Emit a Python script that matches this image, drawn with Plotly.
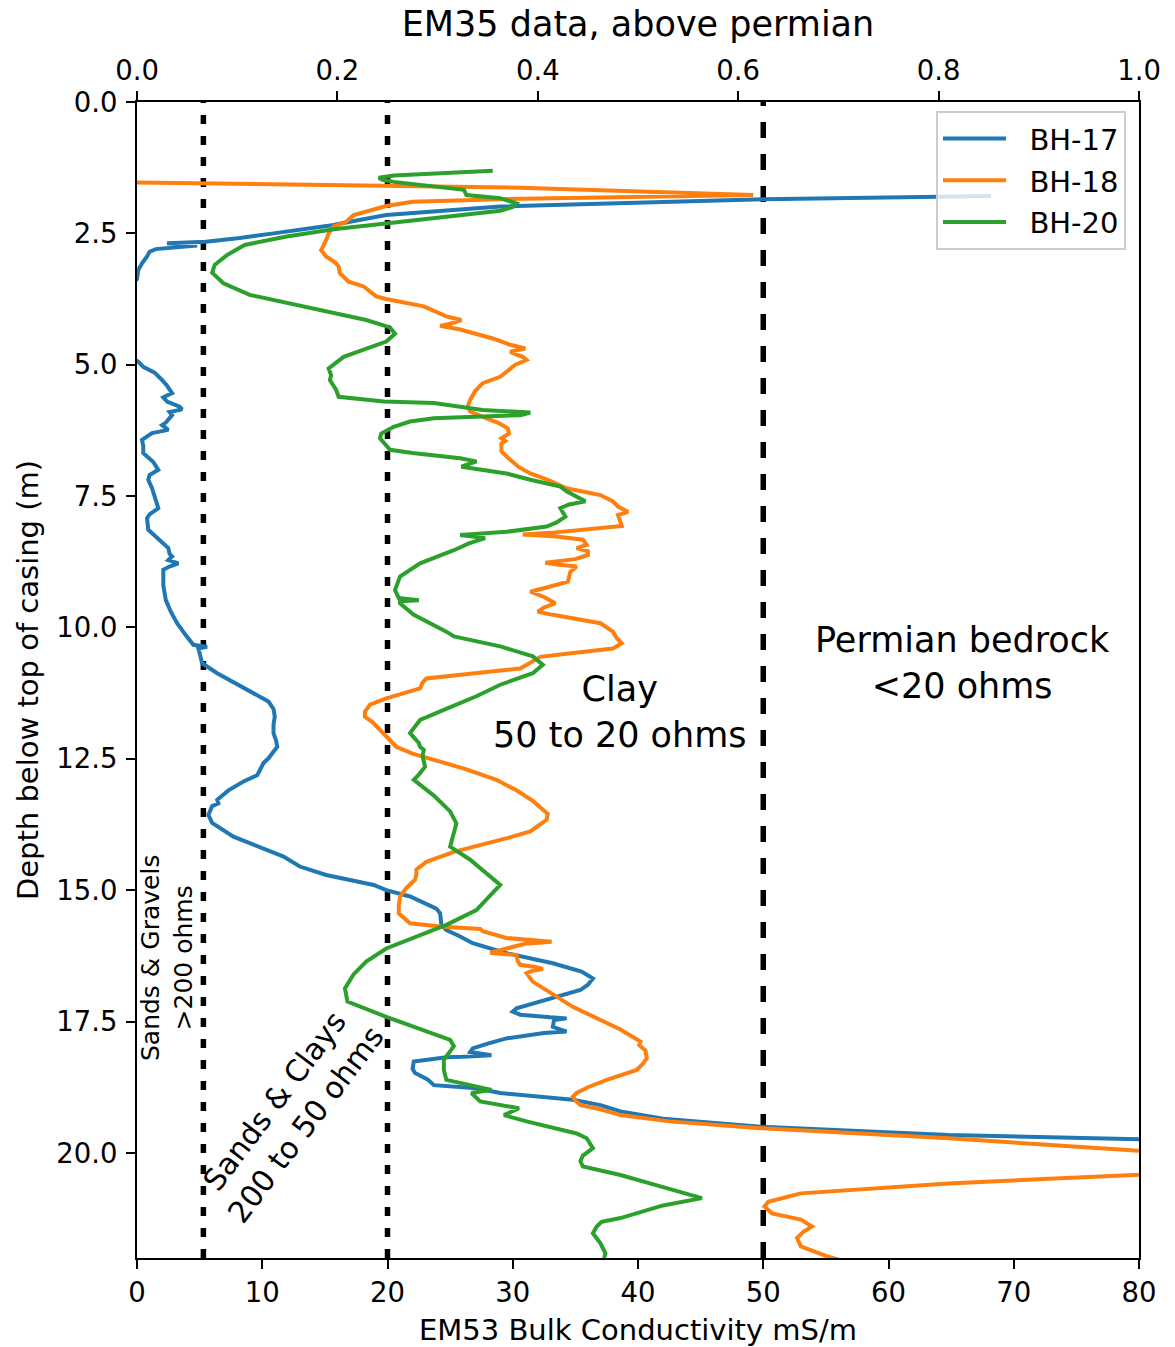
import plotly.graph_objects as go

# ---------------- data (depth m, conductivity mS/m) ----------------
bh17_depth = [1.79, 1.85, 1.99, 2.15, 2.28, 2.34, 2.50, 2.59, 2.66, 2.69, 2.73, 2.80, 2.85, 2.94, 3.07, 3.20, 3.37,
              3.60, 4.80,
              4.94, 5.04, 5.15, 5.29, 5.40, 5.54, 5.62, 5.70, 5.80, 5.85, 5.90, 5.96, 6.10, 6.15, 6.24, 6.30, 6.43,
              6.55, 6.68, 6.85, 7.00, 7.10, 7.19, 7.35, 7.51, 7.62, 7.73, 7.85, 7.92, 8.14, 8.30, 8.49, 8.60, 8.65,
              8.72, 8.78, 8.84, 8.90, 9.20, 9.48, 9.70, 9.92, 10.15, 10.33, 10.37, 10.40, 10.49, 10.62, 10.68, 10.87,
              11.05, 11.19, 11.30, 11.41, 11.55, 11.70, 11.85, 12.01, 12.15, 12.27, 12.49, 12.58, 12.81, 12.93,
              13.10, 13.28, 13.35, 13.40, 13.57, 13.72, 13.98, 14.20, 14.36, 14.55, 14.71, 14.90, 15.00, 15.12,
              15.25, 15.35, 15.44, 15.66, 15.76, 15.88, 16.01, 16.14, 16.20, 16.39, 16.55, 16.68, 16.80, 16.90,
              17.12, 17.25, 17.31, 17.37, 17.42, 17.44, 17.47, 17.60, 17.67, 17.69, 17.72, 17.82, 17.92, 18.01,
              18.08, 18.12, 18.14, 18.17, 18.18, 18.26, 18.40, 18.48, 18.60, 18.71, 18.77, 18.83, 18.86, 18.99,
              19.09, 19.21, 19.35, 19.50, 19.66, 19.74]
bh17_cond = [68.2, 50.0, 29.0, 19.9, 17.0, 15.7, 10.9, 8.2, 5.5, 2.4, 4.8, 1.5, 1.0, 0.8, 0.4, 0.1, 0.0,
             -1.0, -1.0,
             0.1, 0.5, 1.4, 2.0, 2.4, 2.8, 2.1, 2.4, 3.4, 3.6, 2.6, 2.8, 2.3, 2.0, 2.5, 1.2, 0.4,
             0.5, 0.5, 1.3, 1.7, 1.0, 0.9, 1.2, 1.4, 1.5, 1.7, 1.0, 0.8, 0.9, 1.6, 2.5, 2.6, 2.8,
             2.5, 3.3, 2.6, 2.1, 2.1, 2.3, 2.7, 3.2, 3.9, 4.5, 5.6, 4.9, 5.0, 5.1, 5.2, 6.4,
             7.8, 8.8, 9.8, 10.5, 10.9, 11.0, 10.9, 10.9, 11.1, 11.2, 10.5, 10.1, 9.6, 8.5,
             7.3, 6.4, 6.5, 6.0, 5.7, 6.0, 7.7, 10.0, 11.7, 13.0, 15.1, 18.9, 19.9, 21.8,
             23.1, 23.9, 24.2, 24.3, 24.7, 25.8, 26.8, 28.7, 29.5, 33.2, 35.5, 36.4, 36.0, 35.4,
             32.2, 30.3, 30.0, 30.6, 33.0, 34.3, 33.3, 33.2, 34.0, 34.3, 32.5, 29.5, 28.0, 26.8,
             26.6, 27.5, 28.3, 26.0, 24.7, 22.1, 22.0, 22.2, 23.2, 23.7, 27.1, 28.4, 29.0, 34.8,
             37.0, 38.6, 42.0, 49.8, 64.8, 80.0]

bh18_depth = [1.53, 1.63, 1.77, 1.85, 1.90, 1.98, 2.15, 2.28, 2.37, 2.50, 2.63, 2.82, 2.94, 3.05, 3.13, 3.26,
              3.42, 3.51, 3.70, 3.75, 3.89, 4.08, 4.15, 4.22, 4.26, 4.33, 4.50, 4.62, 4.69, 4.75, 4.78, 4.85,
              4.91, 5.00, 5.23, 5.35, 5.50, 5.67, 5.80, 5.89, 6.02, 6.10, 6.21, 6.31, 6.40, 6.45, 6.50, 6.65,
              6.81, 6.95, 7.07, 7.19, 7.35, 7.48, 7.60, 7.70, 7.80, 7.86, 7.92, 8.07, 8.20, 8.23, 8.27, 8.33,
              8.43, 8.49, 8.55, 8.62, 8.70, 8.77, 8.80, 8.84, 8.94, 9.13, 9.22, 9.32, 9.42, 9.54, 9.62, 9.70,
              9.76, 9.92, 10.08, 10.20, 10.30, 10.40, 10.48, 10.56, 10.78, 10.88, 10.97, 11.05, 11.16, 11.35,
              11.47, 11.60, 11.70, 11.80, 11.95, 12.10, 12.27, 12.40, 12.52, 12.70, 12.90, 13.10, 13.30, 13.45,
              13.55, 13.66, 13.88, 14.00, 14.11, 14.27, 14.46, 14.61, 14.70, 14.80, 14.96, 15.12, 15.30, 15.44,
              15.63, 15.69, 15.74, 15.78, 15.91, 15.96, 15.98, 16.02, 16.10, 16.19, 16.21, 16.23, 16.35, 16.42,
              16.46, 16.50, 16.54, 16.58, 16.74, 16.88, 17.02, 17.22, 17.47, 17.65, 17.88, 17.95, 18.05, 18.20,
              18.30, 18.42, 18.61, 18.75, 18.86, 18.93, 19.00, 19.09, 19.17, 19.28, 19.40, 19.53, 19.72, 19.96,
              20.20, 20.41, 20.58, 20.77, 20.93, 21.02, 21.15, 21.27, 21.40, 21.50, 21.62, 21.78, 21.96, 22.10]
bh18_cond = [0.0, 30.6, 49.2, 29.0, 22.0, 19.9, 17.3, 16.7, 15.7, 15.3, 15.1, 14.7, 15.1, 15.8, 16.1, 16.2,
             16.9, 18.1, 19.1, 19.9, 22.9, 24.7, 25.9, 25.0, 24.2, 25.8, 28.4, 29.8, 31.0, 29.8, 30.0, 30.8,
             31.1, 30.2, 29.0, 27.6, 27.0, 26.6, 26.4, 26.6, 27.9, 28.8, 29.6, 29.7, 29.1, 29.4, 29.1, 29.1,
             29.8, 30.5, 31.4, 32.8, 34.3, 37.0, 38.0, 38.4, 39.2, 38.4, 38.5, 38.7, 33.0, 30.8, 33.5, 35.6,
             35.9, 35.1, 36.0, 36.0, 35.0, 32.6, 33.5, 35.1, 34.6, 34.4, 33.0, 31.4, 32.5, 33.4, 32.5, 32.0,
             33.2, 37.0, 38.0, 38.3, 38.7, 38.0, 35.0, 32.2, 30.6, 27.0, 23.1, 22.8, 22.6, 19.9,
             18.6, 18.2, 18.2, 18.8, 19.4, 20.0, 20.7, 22.0, 23.7, 26.3, 28.7, 30.3, 31.6, 32.3,
             32.8, 32.7, 31.4, 29.7, 27.9, 25.3, 23.1, 22.3, 22.3, 22.2, 21.5, 21.0, 20.9, 20.9,
             21.8, 24.2, 27.4, 27.6, 29.5, 32.0, 33.1, 31.0, 29.8, 28.2, 29.0, 30.3, 30.4, 30.6,
             31.8, 32.4, 31.5, 31.1, 31.6, 32.5, 33.5, 34.8, 37.0, 38.6, 40.2, 40.1, 40.6, 40.7,
             40.4, 39.9, 37.5, 36.0, 35.1, 34.8, 35.0, 35.4, 37.0, 38.6, 42.5, 49.8, 64.8, 80.0,
             100.0, 80.0, 64.8, 53.0, 50.4, 50.1, 50.7, 53.0, 53.9, 53.2, 52.7, 53.0, 55.0, 57.0]

bh20_depth = [1.31, 1.40, 1.44, 1.48, 1.52, 1.61, 1.67, 1.77, 1.83, 1.93, 2.00, 2.07, 2.20, 2.31, 2.42, 2.56,
              2.72, 2.91, 3.10, 3.25, 3.45, 3.67, 3.83, 4.02, 4.15, 4.29, 4.41, 4.56, 4.72, 4.85, 5.07, 5.20,
              5.29, 5.48, 5.61, 5.70, 5.73, 5.86, 5.91, 5.96, 6.02, 6.08, 6.18, 6.31, 6.40, 6.53, 6.62, 6.68,
              6.78, 6.84, 6.94, 7.07, 7.19, 7.32, 7.41, 7.50, 7.60, 7.66, 7.73, 7.89, 8.00, 8.08, 8.18, 8.24,
              8.28, 8.30, 8.40, 8.53, 8.78, 9.03, 9.29, 9.44, 9.48, 9.50, 9.54, 9.76, 10.08, 10.17, 10.36, 10.55,
              10.71, 10.87, 11.09, 11.31, 11.57, 11.76, 12.01, 12.20, 12.27, 12.33, 12.45, 12.65, 12.80, 12.90,
              13.20, 13.50, 13.73, 14.00, 14.17, 14.42, 14.65, 14.90, 15.15, 15.38, 15.66, 15.90, 16.11, 16.36,
              16.60, 16.87, 17.12, 17.41, 17.72, 17.85, 17.97, 18.23, 18.42, 18.61, 18.71, 18.80, 18.86, 19.02,
              19.15, 19.28, 19.40, 19.63, 19.72, 19.91, 20.05, 20.16, 20.26, 20.42, 20.65, 20.86, 21.00, 21.24,
              21.31, 21.40, 21.53, 21.72, 21.91, 22.00]
bh20_cond = [28.4, 20.5, 19.3, 19.6, 20.5, 23.7, 26.1, 26.3, 29.0, 30.3, 30.0, 29.0, 24.0, 19.9, 15.7, 11.95,
             8.6, 7.2, 6.2, 6.0, 6.9, 9.0, 12.0, 15.7, 18.3, 20.2, 20.6, 19.9, 18.1, 16.5, 15.3, 15.5,
             15.4, 15.9, 16.1, 19.7, 23.7, 27.6, 31.4, 30.6, 23.7, 21.8, 20.5, 19.5, 19.4, 19.9, 20.2, 22.0,
             25.8, 27.1, 25.9, 29.5, 31.4, 33.8, 34.3, 35.0, 35.8, 34.5, 33.8, 34.2, 33.5, 32.7, 29.5, 25.8,
             27.0, 27.8, 26.5, 25.3, 22.6, 21.0, 20.6, 20.9, 22.5, 21.0, 21.0, 22.1, 24.7, 25.3, 29.0, 31.6,
             32.4, 31.6, 29.0, 27.1, 24.5, 22.6, 21.8, 22.5, 22.6, 22.9, 22.8, 23.0, 22.5, 22.1,
             23.7, 25.0, 25.5, 25.2, 25.0, 26.6, 27.8, 29.0, 28.0, 27.1, 24.7, 22.2, 19.9, 18.3,
             17.3, 16.6, 16.8, 19.9, 23.4, 25.0, 25.3, 24.5, 24.5, 24.7, 26.6, 28.3, 26.7, 27.4,
             30.5, 29.3, 31.1, 35.1, 35.9, 36.4, 35.6, 35.4, 35.6, 38.6, 42.0, 45.1, 42.0, 38.6,
             37.1, 36.7, 36.4, 37.0, 37.4, 37.3]

# reference resistivity boundaries (mS/m)
boundary_x = [5.3, 20.0, 50.0]
boundary_dash = ["9px,12px", "9px,12px", "16px,16px"]

x_ticks = [0, 10, 20, 30, 40, 50, 60, 70, 80]
top_ticks = [0.0, 0.2, 0.4, 0.6, 0.8, 1.0]
y_ticks = [0.0, 2.5, 5.0, 7.5, 10.0, 12.5, 15.0, 17.5, 20.0]

colors = ["#1f77b4", "#ff7f0e", "#2ca02c"]
FONT = "DejaVu Sans"
NB = "\u00a0\u00a0"

fig = go.Figure()
for name, xs, ys, c in [("BH-17", bh17_cond, bh17_depth, colors[0]),
                        ("BH-18", bh18_cond, bh18_depth, colors[1]),
                        ("BH-20", bh20_cond, bh20_depth, colors[2])]:
    fig.add_trace(go.Scatter(x=xs, y=ys, mode="lines", name=NB + name, legendgroup=name,
                             line=dict(color=c, width=4)))

for bx, dsh in zip(boundary_x, boundary_dash):
    fig.add_shape(type="line", xref="x", yref="paper", x0=bx, x1=bx, y0=0, y1=1,
                  line=dict(color="black", width=5.5, dash=dsh), layer="below")

axis_common = dict(showline=True, linecolor="black", linewidth=2, ticks="outside",
                   ticklen=9, tickwidth=2, tickcolor="black", showgrid=False, zeroline=False,
                   automargin=False,
                   tickfont=dict(family=FONT, size=27.5, color="black"))

fig.update_layout(
    width=1175, height=1347,
    margin=dict(l=137, r=36, t=102, b=89),
    plot_bgcolor="white", paper_bgcolor="white",
    font=dict(family=FONT, color="black"),
    xaxis=dict(range=[0, 80], tickvals=x_ticks, mirror=True,
               title=dict(text="EM53 Bulk Conductivity mS/m", font=dict(size=29), standoff=14),
               **axis_common),
    xaxis2=dict(range=[0, 1], tickvals=top_ticks, tickformat=".1f", overlaying="x", side="top",
                title=dict(text="EM35 data, above permian", font=dict(size=35), standoff=7),
                **axis_common),
    yaxis=dict(range=[22, 0], tickvals=y_ticks, tickformat=".1f", mirror=True, ticklabelstandoff=3,
               title=dict(text="Depth below top of casing (m)", font=dict(size=29), standoff=9),
               **axis_common),
    legend=dict(x=0.987, y=0.992, xanchor="right", yanchor="top",
                bgcolor="rgba(255,255,255,0.8)", bordercolor="#cccccc", borderwidth=2,
                font=dict(family=FONT, size=29), itemwidth=63, tracegroupgap=1),
    showlegend=True,
)
# empty trace anchoring the top axis
fig.add_trace(go.Scatter(x=[None], y=[None], xaxis="x2", yaxis="y", showlegend=False, hoverinfo="skip"))

annos = [
    dict(x=65.9, y=10.68, text="Permian bedrock<br><20 ohms", size=35, angle=0),
    dict(x=38.6, y=11.61, text="Clay<br>50 to 20 ohms", size=35, angle=0),
    dict(x=2.4, y=16.29, text="Sands & Gravels<br>>200 ohms", size=25, angle=-90),
    dict(x=12.2, y=19.24, text="Sands & Clays<br>200 to 50 ohms", size=30, angle=-53),
]
for a in annos:
    fig.add_annotation(x=a["x"], y=a["y"], xref="x", yref="y", text=a["text"], showarrow=False,
                       textangle=a["angle"], font=dict(family=FONT, size=a["size"], color="black"),
                       align="center")

fig.write_html("out.html")
